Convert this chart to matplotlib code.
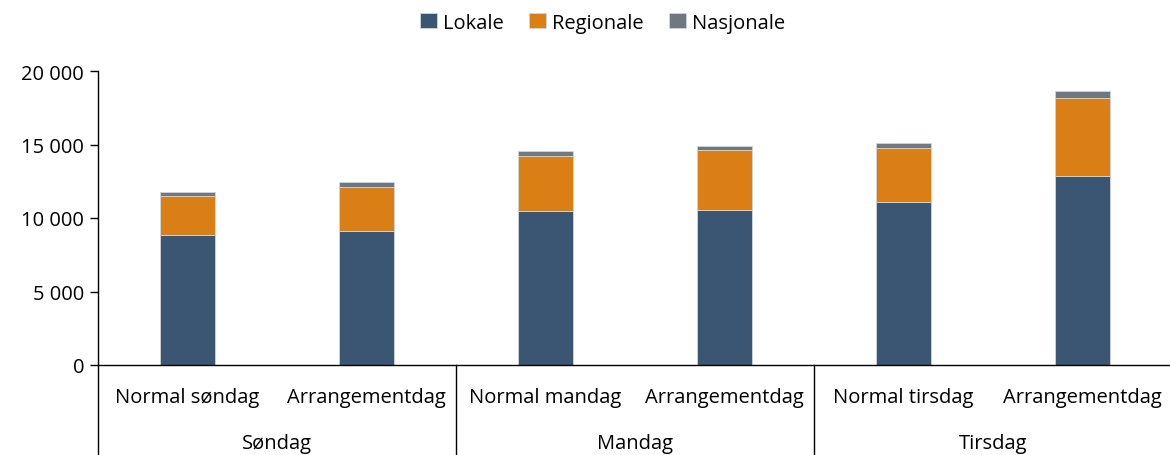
import matplotlib.pyplot as plt
from matplotlib.ticker import FuncFormatter
import numpy as np

categories = ['Normal søndag', 'Arrangementdag', 'Normal mandag', 'Arrangementdag',
              'Normal tirsdag', 'Arrangementdag']
groups = ['Søndag', 'Mandag', 'Tirsdag']
lokale = [8850, 9140, 10450, 10570, 11070, 12860]
regionale = [2630, 2970, 3770, 4030, 3690, 5280]
nasjonale = [270, 360, 360, 300, 320, 480]

colors = ['#3A5673', '#D97F16', '#6F7880']

plt.rcParams['font.family'] = ['Open Sans', 'DejaVu Sans']

fig = plt.figure(figsize=(11.7, 4.56), dpi=100)
ax = fig.add_axes([98 / 1170, 90 / 456, 1074 / 1170, 294 / 456])

x = np.arange(len(categories))
w = 0.31
lok = np.array(lokale)
reg = np.array(regionale)
nas = np.array(nasjonale)
ax.bar(x, lok, w, color=colors[0], label='Lokale', edgecolor='#D0D6DC', linewidth=0.6)
ax.bar(x, reg, w, bottom=lok, color=colors[1], label='Regionale', edgecolor='#D0D6DC', linewidth=0.6)
ax.bar(x, nas, w, bottom=lok + reg, color=colors[2], label='Nasjonale', edgecolor='#D0D6DC', linewidth=0.6)

ax.set_xlim(-0.5, len(categories) - 0.5)
ax.set_ylim(0, 20000)
ax.set_yticks([0, 5000, 10000, 15000, 20000])
ax.yaxis.set_major_formatter(FuncFormatter(lambda v, p: f'{int(v):,}'.replace(',', ' ')))
ax.tick_params(axis='y', labelsize=14.5, length=6, width=1, direction='out', pad=4)
ax.set_xticks([])
for s in ['top', 'right']:
    ax.spines[s].set_visible(False)
ax.spines['left'].set_linewidth(1)
ax.spines['bottom'].set_linewidth(1)

trans = ax.get_xaxis_transform()
for i, c in enumerate(categories):
    ax.text(i, -0.11, c, transform=trans, ha='center', va='center', fontsize=14.5)
for g, name in enumerate(groups):
    ax.text(2 * g + 0.5, -0.265, name, transform=trans, ha='center', va='center', fontsize=14.5)
for b in [-0.5, 1.5, 3.5, 5.5]:
    ax.plot([b, b], [0, -0.31], transform=trans, color='black', lw=1, clip_on=False)

fig.legend(loc='upper center', bbox_to_anchor=(0.515, 1.01), ncol=3, frameon=False,
           fontsize=14.5, handlelength=0.8, handleheight=0.8, handletextpad=0.3,
           columnspacing=1.3)

fig.savefig('out.png', dpi=100)
